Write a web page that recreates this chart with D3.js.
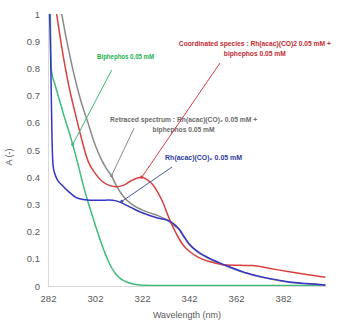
<!DOCTYPE html>
<html><head><meta charset="utf-8">
<script src="https://cdn.jsdelivr.net/npm/d3@7"></script>
<style>
body{margin:0;background:#fff;}
svg{display:block;}
text{font-family:"Liberation Sans Narrow","Arial Narrow","Liberation Sans",Arial,sans-serif;}
</style></head>
<body><svg id="chart" width="347" height="325"></svg>
<script>
// ---- data ----
const xTicks = [282, 302, 322, 342, 362, 382];
const yTicks = [0, 0.1, 0.2, 0.3, 0.4, 0.5, 0.6, 0.7, 0.8, 0.9, 1];

const greenWl = [282.9, 283.2, 283.5, 285, 287, 289, 291, 293, 295, 297, 299, 301, 303, 305, 307, 309, 311, 313, 316, 320, 325, 340, 360, 380, 400];
const greenA  = [1.05, 0.85, 0.79, 0.74, 0.68, 0.62, 0.565, 0.505, 0.44, 0.37, 0.31, 0.255, 0.2, 0.15, 0.105, 0.068, 0.042, 0.026, 0.013, 0.005, 0.002, 0.002, 0.002, 0.002, 0.002];

const grayWl = [287, 290, 293, 296, 299, 302, 305, 307, 309, 311, 314, 318, 322, 326, 329, 332, 334, 336, 338, 340, 342, 346, 350, 355, 360, 365, 370, 376, 384, 392, 400];
const grayA  = [1.04, 0.9, 0.78, 0.68, 0.6, 0.52, 0.46, 0.43, 0.405, 0.37, 0.33, 0.298, 0.28, 0.267, 0.258, 0.245, 0.233, 0.22, 0.205, 0.178, 0.153, 0.123, 0.103, 0.083, 0.066, 0.05, 0.038, 0.027, 0.015, 0.008, 0.003];

const redWl = [285, 288, 291, 294, 296.3, 299, 302, 305, 308, 311, 314, 317, 320, 322, 324, 326.7, 329, 331, 333, 335, 338, 340, 342.4, 346, 351, 358, 364, 369, 376, 384, 392, 400];
const redA  = [1.04, 0.87, 0.73, 0.62, 0.54, 0.46, 0.415, 0.385, 0.37, 0.365, 0.37, 0.385, 0.397, 0.4, 0.392, 0.371, 0.34, 0.305, 0.26, 0.22, 0.17, 0.145, 0.126, 0.105, 0.089, 0.077, 0.076, 0.075, 0.065, 0.053, 0.042, 0.032];

const blueWl = [282.5, 283, 283.4, 283.7, 284.2, 285, 286, 288, 291, 294, 297, 300, 304, 308, 311, 314, 317, 321, 325, 329, 333, 336, 338, 340, 342, 346, 350, 355, 360, 365, 370, 376, 384, 392, 400];
const blueA  = [1.05, 0.9, 0.7, 0.55, 0.44, 0.41, 0.39, 0.37, 0.345, 0.325, 0.318, 0.315, 0.315, 0.316, 0.313, 0.303, 0.29, 0.273, 0.26, 0.249, 0.242, 0.225, 0.207, 0.18, 0.155, 0.125, 0.105, 0.085, 0.068, 0.052, 0.04, 0.028, 0.016, 0.009, 0.004];

const seriesNames = ["Biphephos", "Retraced", "Coordinated", "Rh"];
const seriesColors = ["#3dbb7a", "#8a8a8a", "#d8403f", "#3434c8"];

const annGreenLines = ["Biphephos 0.05 mM"];
const annGrayLines = ["Retraced spectrum : Rh(acac)(CO)\u2082 0.05 mM +", "biphephos 0.05 mM"];
const annRedLines = ["Coordinated species : Rh(acac)(CO)2 0.05 mM +", "biphephos 0.05 mM"];
const annBlueLines = ["Rh(acac)(CO)\u2082 0.05 mM"];

// ---- layout ----
const svg = d3.select("#chart");
const m = {left: 48, top: 14, right: 20, bottom: 39};
const W = 347 - m.left - m.right, H = 325 - m.top - m.bottom;
const x = d3.scaleLinear().domain([282, 400.7]).range([m.left, m.left + W]);
const y = d3.scaleLinear().domain([0, 1]).range([m.top + H, m.top]);

svg.append("defs").append("clipPath").attr("id", "clip")
  .append("rect").attr("x", m.left).attr("y", m.top).attr("width", W).attr("height", H);

const yAxis = svg.append("g").attr("transform", `translate(${m.left},0)`)
  .call(d3.axisLeft(y).tickValues(yTicks).tickSize(0).tickPadding(8).tickFormat(d => d3.format("")(+d.toFixed(1))));
const xAxis = svg.append("g").attr("transform", `translate(0,${m.top + H})`)
  .call(d3.axisBottom(x).tickValues(xTicks).tickSize(0).tickPadding(9).tickFormat(d3.format("d")));
[yAxis, xAxis].forEach(g => {
  g.select(".domain").attr("stroke", "#d9d9d9").attr("stroke-width", 1);
  g.selectAll("text").attr("fill", "#595959").style("font-size", "9.5px");
});
yAxis.select(".domain").attr("d", `M0.5,${m.top}V${m.top + H}`);
xAxis.select(".domain").attr("d", `M${m.left},0.5H${m.left + W}`);

svg.append("text").attr("transform", `translate(12,157) rotate(-90)`)
  .attr("text-anchor", "middle").attr("fill", "#595959").style("font-size", "9px").text("A (-)");
svg.append("text").attr("x", 187).attr("y", 318)
  .attr("text-anchor", "middle").attr("fill", "#595959").style("font-size", "9px").text("Wavelength (nm)");

const line = d3.line().x(d => x(d[0])).y(d => y(d[1])).curve(d3.curveMonotoneX);
const series = [
  d3.zip(greenWl, greenA),
  d3.zip(grayWl, grayA),
  d3.zip(redWl, redA),
  d3.zip(blueWl, blueA)
];
const curves = svg.append("g").attr("clip-path", "url(#clip)");
series.forEach((s, i) => {
  curves.append("path").datum(s).attr("d", line)
    .attr("fill", "none").attr("stroke", seriesColors[i]).attr("stroke-width", 1.5);
});

function annotate(lines, color, lineColor, tx, ty, anchor, lengths, sizes, leaderEnd, marker) {
  svg.append("line")
    .attr("x1", x(marker[0])).attr("y1", y(marker[1]))
    .attr("x2", x(leaderEnd[0])).attr("y2", y(leaderEnd[1]))
    .attr("stroke", lineColor).attr("stroke-width", 1);
  svg.append("circle").attr("cx", x(marker[0])).attr("cy", y(marker[1])).attr("r", 1.6).attr("fill", lineColor);
  lines.forEach((t, k) => {
    svg.append("text")
      .attr("x", x(tx)).attr("y", y(ty) + k * 10.5)
      .attr("text-anchor", anchor).attr("fill", color)
      .attr("textLength", lengths[k]).attr("lengthAdjust", "spacingAndGlyphs")
      .style("font-size", sizes[k] + "px").style("font-weight", "bold").text(t);
  });
}
annotate(annGreenLines, "#22b04f", "#3dbb7a", 315.0, 0.833, "middle", [57], [7.5], [309.1, 0.794], [292.5, 0.52]);
annotate(annGrayLines, "#6b6b6b", "#8a8a8a", 339.7, 0.603, "middle", [147, 62], [7, 7.5], [318.6, 0.58], [309, 0.405]);
annotate(annBlueLines, "#2f3c9c", "#4a5a9a", 348.2, 0.465, "middle", [77], [7.5], [334.8, 0.4375], [313.4, 0.311]);
annotate(annRedLines, "#c42c30", "#d8403f", 370.0, 0.884, "middle", [152, 62], [6.6, 7.5], [355.2, 0.82], [321.9, 0.4]);
</script>
</body></html>
